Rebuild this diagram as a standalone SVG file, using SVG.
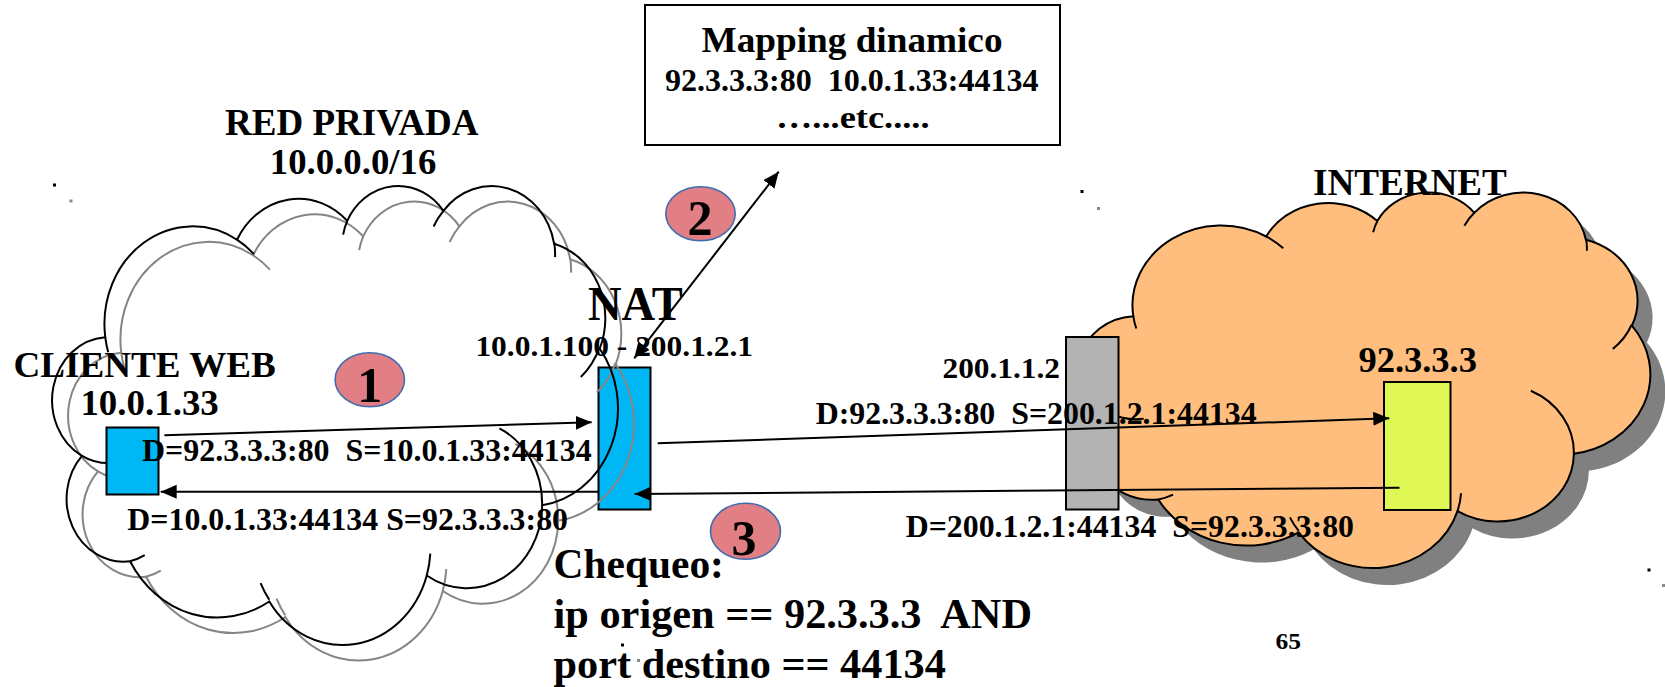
<svg xmlns="http://www.w3.org/2000/svg" width="1665" height="687" viewBox="0 0 1665 687">
  <style>
    .t { font-family: "Liberation Serif", "Times New Roman", serif; font-weight: bold; fill: #000; }
    .ln { stroke: #000; stroke-width: 2; fill: none; }
    .box { stroke: #000; stroke-width: 2; }
    .badge { fill: #E17F84; stroke: #3F6CB0; stroke-width: 1.6; }
    .speck { fill: #000; }
    .speck2 { fill: #8a8a8a; }
  </style>
  <defs>
    <!-- cloud outline in a 43200 x 43200 unit space -->
    <path id="cloudOutline" vector-effect="non-scaling-stroke" d="M3900 14370 A6753 9190 0 0 1 14005 5201 A5333 7267 0 0 1 22456 3430 A4365 5945 0 0 1 29832 2477 A4857 6595 0 0 1 38317 5571 A5333 7273 0 0 1 41818 15455 A6775 9220 0 0 1 37404 30198 A5785 7867 0 0 1 28555 36808 A6752 9215 0 0 1 16480 39260 A7720 10543 0 0 1 5803 35466 A4360 5918 0 0 1 2113 25542 A4345 5945 0 0 1 3900 14370 Z"/>
    <!-- inner arcs between the lobes -->
    <path id="cloudInner" vector-effect="non-scaling-stroke" fill="none" d="M4693 26177 A4345 5945 0 0 1 2113 25542 M6928 34899 A4360 5918 0 0 1 5803 35466 M16478 39090 A6752 9215 0 0 1 15812 37520 M28827 34751 A6752 9215 0 0 1 28555 36808 M34129 22954 A5785 7867 0 0 1 37404 30198 M41798 15354 A5333 7273 0 0 1 40369 18131 M38324 5426 A4857 6595 0 0 1 38394 6836 M29078 3952 A4857 6595 0 0 1 29832 2477 M22141 4720 A4365 5945 0 0 1 22456 3430 M14000 5192 A6753 9190 0 0 1 15307 6552 M4127 15789 A6753 9190 0 0 1 3900 14370"/>
    <marker id="ah" markerUnits="userSpaceOnUse" markerWidth="18" markerHeight="16" refX="16" refY="7" orient="auto-start-reverse">
      <path d="M0,0 L16,7 L0,14 Z" fill="#000"/>
    </marker>
  </defs>

  <!-- INTERNET cloud -->
  <g id="internet-cloud">
    <use href="#cloudOutline" transform="translate(1097,208.3) scale(0.01315,0.00869)" fill="#808080"/>
    <use href="#cloudOutline" transform="translate(1082,191.3) scale(0.01315,0.00869)" fill="#FFBE7D" stroke="#000" stroke-width="2"/>
    <use href="#cloudInner" transform="translate(1082,191.3) scale(0.01315,0.00869)" stroke="#000" stroke-width="2"/>
  </g>

  <!-- NAT router -->
  <g id="nat">
    <rect class="box" x="598.5" y="367.5" width="52" height="142" fill="#00B7F5"/>
  </g>

  <!-- private network cloud: grey shadow outline, then black outline -->
  <g id="private-cloud">
    <use href="#cloudOutline" transform="translate(70.4,200) scale(0.01304,0.010622)" fill="none" stroke="#858585" stroke-width="2"/>
    <use href="#cloudInner" transform="translate(70.4,200) scale(0.01304,0.010622)" stroke="#858585" stroke-width="2"/>
    <use href="#cloudOutline" transform="translate(54.4,184.5) scale(0.01304,0.010622)" fill="none" stroke="#000" stroke-width="2"/>
    <use href="#cloudInner" transform="translate(54.4,184.5) scale(0.01304,0.010622)" stroke="#000" stroke-width="2"/>
  </g>

  <!-- web client -->
  <g id="client">
    <rect class="box" x="106.5" y="427.5" width="52" height="67" fill="#00B7F5"/>
  </g>

  <!-- edge router -->
  <g id="router">
    <rect class="box" x="1066" y="337" width="52.5" height="172.5" fill="#B3B3B3"/>
  </g>

  <!-- web server -->
  <g id="server">
    <rect class="box" x="1384" y="382" width="66.5" height="128" fill="#E0F855"/>
  </g>

  <!-- mapping table -->
  <g id="mapping">
    <rect class="box" x="645" y="5" width="415" height="140" fill="#fff"/>
    <text class="t" x="701.5" y="52" font-size="36" textLength="301" lengthAdjust="spacingAndGlyphs">Mapping dinamico</text>
    <text class="t" x="665" y="90.7" font-size="32" textLength="373.6" lengthAdjust="spacingAndGlyphs" xml:space="preserve">92.3.3.3:80  10.0.1.33:44134</text>
    <text class="t" x="776" y="128" font-size="32" textLength="153.5" lengthAdjust="spacingAndGlyphs">…...etc.....</text>
  </g>

  <!-- step badges -->
  <g id="step1">
    <ellipse class="badge" cx="369.8" cy="379.7" rx="34.7" ry="27"/>
    <text class="t" x="369.8" y="401.7" font-size="50" text-anchor="middle">1</text>
  </g>
  <g id="step2">
    <ellipse class="badge" cx="700.5" cy="213.7" rx="34.7" ry="27"/>
    <text class="t" x="700" y="235" font-size="50" text-anchor="middle">2</text>
  </g>
  <g id="step3">
    <ellipse class="badge" cx="745.5" cy="531.3" rx="35" ry="28"/>
    <text class="t" x="744" y="555" font-size="50" text-anchor="middle">3</text>
  </g>

  <!-- labels -->
  <g id="labels">
    <text class="t" x="225" y="135" font-size="37" textLength="253.4" lengthAdjust="spacingAndGlyphs">RED PRIVADA</text>
    <text class="t" x="269.8" y="174" font-size="35" textLength="166.5" lengthAdjust="spacingAndGlyphs">10.0.0.0/16</text>
    <text class="t" x="1313" y="195" font-size="37" textLength="193.8" lengthAdjust="spacingAndGlyphs">INTERNET</text>
    <text class="t" x="588" y="320" font-size="48" textLength="94.7" lengthAdjust="spacingAndGlyphs">NAT</text>
    <text class="t" x="475.4" y="356" font-size="30" textLength="277.6" lengthAdjust="spacingAndGlyphs">10.0.1.100 - 200.1.2.1</text>
    <text class="t" x="13.4" y="376.7" font-size="36" textLength="262.5" lengthAdjust="spacingAndGlyphs">CLIENTE WEB</text>
    <text class="t" x="80.4" y="414.7" font-size="36" textLength="138.4" lengthAdjust="spacingAndGlyphs">10.0.1.33</text>
    <text class="t" x="142" y="461" font-size="31" textLength="449.7" lengthAdjust="spacingAndGlyphs" xml:space="preserve">D=92.3.3.3:80  S=10.0.1.33:44134</text>
    <text class="t" x="127.3" y="530" font-size="31" textLength="440.7" lengthAdjust="spacingAndGlyphs">D=10.0.1.33:44134 S=92.3.3.3:80</text>
    <text class="t" x="942.5" y="377.5" font-size="30" textLength="117.5" lengthAdjust="spacingAndGlyphs">200.1.1.2</text>
    <text class="t" x="1358.4" y="371.7" font-size="35" textLength="118.6" lengthAdjust="spacingAndGlyphs">92.3.3.3</text>
    <text class="t" x="815.7" y="424" font-size="31" textLength="441" lengthAdjust="spacingAndGlyphs" xml:space="preserve">D:92.3.3.3:80  S=200.1.2.1:44134</text>
    <text class="t" x="905.7" y="536.7" font-size="31" textLength="448.3" lengthAdjust="spacingAndGlyphs" xml:space="preserve">D=200.1.2.1:44134  S=92.3.3.3:80</text>
    <text class="t" x="553.6" y="578.3" font-size="42" textLength="170.3" lengthAdjust="spacingAndGlyphs">Chequeo:</text>
    <text class="t" x="553.6" y="628.3" font-size="42" textLength="478.4" lengthAdjust="spacingAndGlyphs" xml:space="preserve">ip origen == 92.3.3.3  AND</text>
    <text class="t" x="553.6" y="678.3" font-size="42" textLength="392.2" lengthAdjust="spacingAndGlyphs">port destino == 44134</text>
    <text class="t" x="1275.5" y="649" font-size="24" textLength="25.5" lengthAdjust="spacingAndGlyphs">65</text>
  </g>

  <!-- packet flows -->
  <g id="connectors">
    <line class="ln" x1="164.4" y1="435.3" x2="591.7" y2="422.3" marker-end="url(#ah)"/>
    <line class="ln" x1="598.4" y1="491.8" x2="160.7" y2="491.8" marker-end="url(#ah)"/>
    <line class="ln" x1="657.7" y1="443.3" x2="1389.3" y2="418.3" marker-end="url(#ah)"/>
    <line class="ln" x1="1399.5" y1="487.7" x2="634.7" y2="494" marker-end="url(#ah)"/>
    <line class="ln" x1="634.2" y1="358.3" x2="778.7" y2="171.7" marker-start="url(#ah)" marker-end="url(#ah)"/>
  </g>

  <!-- small corner specks -->
  <g id="specks">
    <rect class="speck" x="53" y="183.5" width="3" height="3"/>
    <rect class="speck2" x="69.5" y="199.5" width="3" height="3"/>
    <rect class="speck" x="1080.5" y="190" width="3" height="3"/>
    <rect class="speck2" x="1097" y="207" width="3" height="3"/>
    <rect class="speck" x="1647.5" y="568.5" width="3" height="3"/>
    <rect class="speck2" x="1662" y="584" width="3" height="3"/>
    <rect class="speck" x="621" y="643.5" width="3" height="3"/>
    <rect class="speck2" x="637" y="659" width="3" height="3"/>
  </g>
</svg>
